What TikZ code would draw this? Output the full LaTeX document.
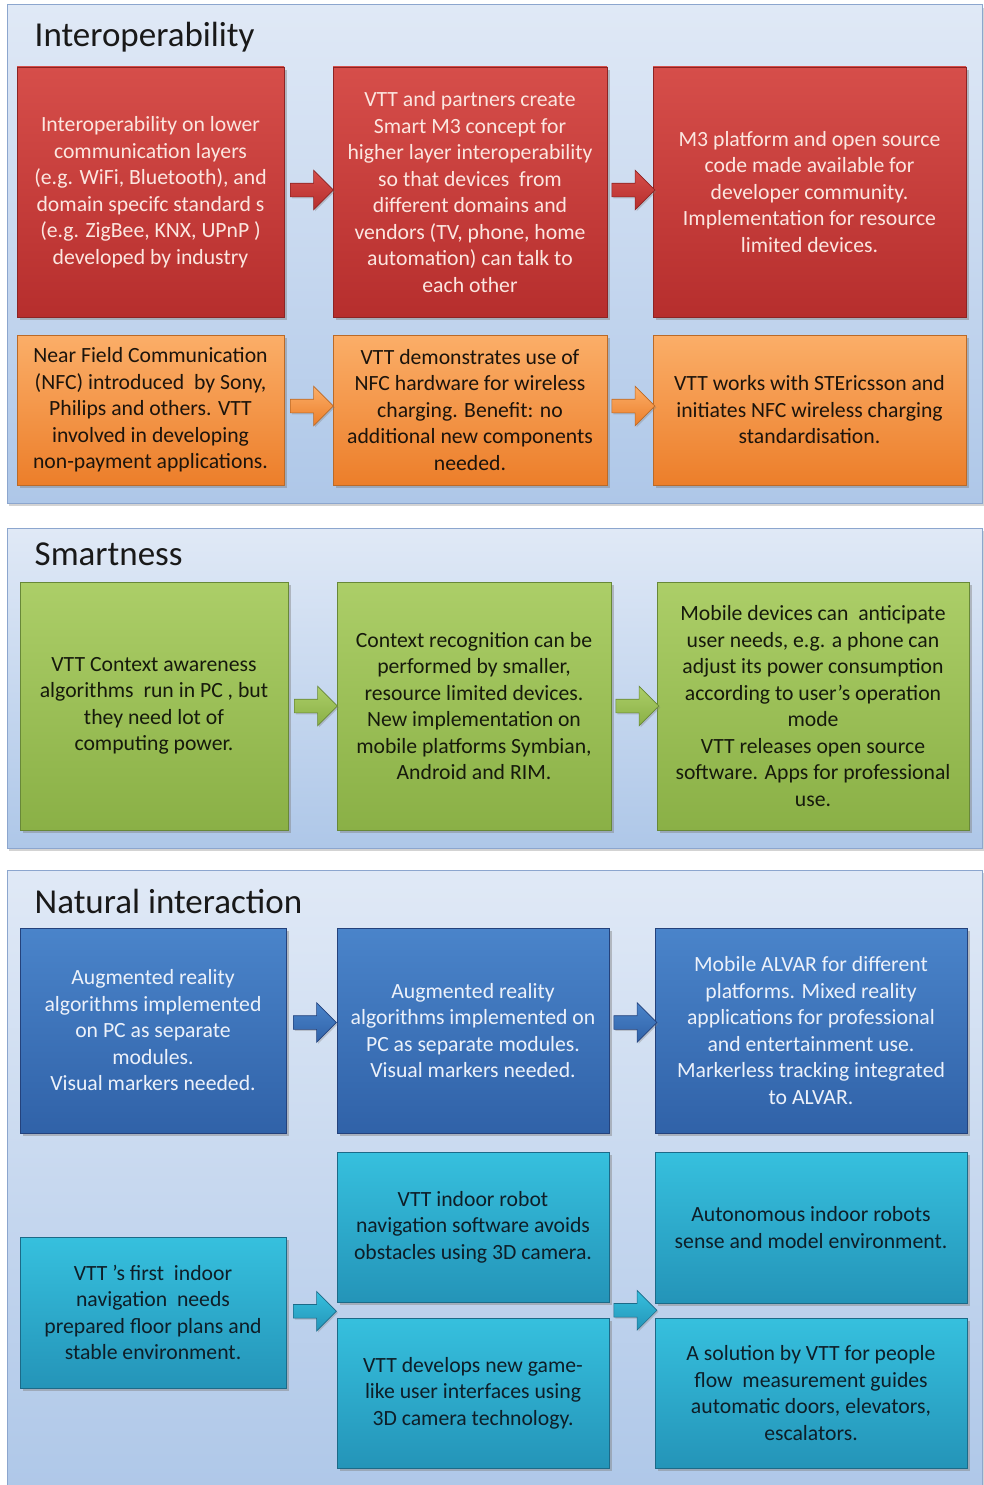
\documentclass[tikz,border=0pt]{standalone}
\usepackage{fontspec}
\setmainfont{Carlito}
\usetikzlibrary{shapes.arrows,shadows,calc}
\definecolor{pnltop}{RGB}{224,233,246}
\definecolor{pnlbot}{RGB}{174,199,232}
\definecolor{pnlbd}{RGB}{140,166,206}
\definecolor{redT}{RGB}{214,78,74}\definecolor{redB}{RGB}{182,46,45}\definecolor{redD}{RGB}{140,36,36}\definecolor{redX}{RGB}{251,230,224}
\definecolor{orT}{RGB}{251,174,104}\definecolor{orB}{RGB}{236,126,42}\definecolor{orD}{RGB}{186,106,40}\definecolor{orX}{RGB}{28,20,12}
\definecolor{grT}{RGB}{172,206,104}\definecolor{grB}{RGB}{138,176,70}\definecolor{grD}{RGB}{104,136,56}\definecolor{grX}{RGB}{22,26,12}
\definecolor{blT}{RGB}{74,132,202}\definecolor{blB}{RGB}{48,98,168}\definecolor{blD}{RGB}{36,66,124}\definecolor{blX}{RGB}{236,241,250}
\definecolor{cyT}{RGB}{54,192,222}\definecolor{cyB}{RGB}{36,148,184}\definecolor{cyD}{RGB}{28,106,136}\definecolor{cyX}{RGB}{14,30,40}
\newcommand\mybox[7]{\node[#2, minimum width={#5-#3}, minimum height={#6-#4}] (#1) at ({(#3+#5)/2},{(#4+#6)/2}) {#7};}
\begin{document}
\begin{tikzpicture}[x=1pt,y=-1pt,
  panel/.style={draw=pnlbd, line width=1pt, top color=pnltop, bottom color=pnlbot, inner sep=0pt,
    drop shadow={opacity=0.35, shadow xshift=2pt, shadow yshift=-3pt}},
  ttl/.style={anchor=west, font=\fontsize{35}{40}\selectfont, text=black!90, inner sep=0pt},
  bx/.style={inner sep=0pt, align=center, font=\fontsize{21.7}{26.5}\selectfont, line width=0.8pt,
    drop shadow={opacity=0.45, shadow xshift=2.5pt, shadow yshift=-3pt}},
  redbox/.style={bx, draw=redD, top color=redT, bottom color=redB, text=redX},
  orbox/.style={bx, draw=orD, top color=orT, bottom color=orB, text=orX},
  grbox/.style={bx, draw=grD, top color=grT, bottom color=grB, text=grX},
  blbox/.style={bx, draw=blD, top color=blT, bottom color=blB, text=blX},
  cybox/.style={bx, draw=cyD, top color=cyT, bottom color=cyB, text=cyX},
  arr/.style={single arrow, minimum height=43pt, inner sep=6.5pt, single arrow head extend=13pt,
    line width=0.6pt, draw=#1D, top color=#1T, bottom color=#1B,
    drop shadow={opacity=0.35, shadow xshift=1.5pt, shadow yshift=-1.5pt}}
]
\useasboundingbox (0,0) rectangle (984,1485);
\begin{scope}
\clip (0,0) rectangle (984,1485);
% panels
\mybox{p1}{panel}{7}{5}{982}{503}{}
\mybox{p2}{panel}{7}{528}{982}{848}{}
\mybox{p3}{panel}{7}{870}{982}{1500}{}
\node[ttl] (t1) at ($(p1.north west)+(28,33)$) {Interoperability};
\node[ttl] (t2) at ($(p2.north west)+(28,27)$) {Smartness};
\node[ttl] (t3) at ($(p3.north west)+(28,32)$) {Natural interaction};
% interoperability
\mybox{r1}{redbox}{17}{67}{284}{317}{Interoperability on lower\\communication layers\\(e.g. WiFi, Bluetooth), and\\domain specifc standard s\\(e.g. ZigBee, KNX, UPnP )\\developed by industry}
\mybox{r2}{redbox}{333}{67}{607}{317}{VTT and partners create\\Smart M3 concept for\\higher layer interoperability\\so that devices\ \ from\\different domains and\\vendors (TV, phone, home\\automation) can talk to\\each other}
\mybox{r3}{redbox}{653}{67}{966}{317}{M3 platform and open source\\code made available for\\developer community.\\Implementation for resource\\limited devices.}
\mybox{o1}{orbox}{17}{335}{284}{485}{Near Field Communication\\(NFC) introduced\ \ by Sony,\\Philips and others. VTT\\involved in developing\\non-payment applications.}
\mybox{o2}{orbox}{333}{335}{607}{485}{VTT demonstrates use of\\NFC hardware for wireless\\charging. Benefit: no\\additional new components\\needed.}
\mybox{o3}{orbox}{653}{335}{966}{485}{VTT works with STEricsson and\\initiates NFC wireless charging\\standardisation.}
\node[arr=red] (ar1) at ($(r1.east)!0.5!(r2.west)+(0,-2)$) {};
\node[arr=red] (ar2) at ($(r2.east)!0.5!(r3.west)+(0,-2)$) {};
\node[arr=or] (ao1) at ($(o1.east)!0.5!(o2.west)+(0,-4)$) {};
\node[arr=or] (ao2) at ($(o2.east)!0.5!(o3.west)+(0,-4)$) {};
% smartness
\mybox{g1}{grbox}{20}{582}{288}{830}{VTT Context awareness\\algorithms\ \ run in PC , but\\they need lot of\\computing power.}
\mybox{g2}{grbox}{337}{582}{611}{830}{Context recognition can be\\performed by smaller,\\resource limited devices.\\New implementation on\\mobile platforms Symbian,\\Android and RIM.}
\mybox{g3}{grbox}{657}{582}{969}{830}{Mobile devices can\ \ anticipate\\user needs, e.g. a phone can\\adjust its power consumption\\according to user’s operation\\mode\\VTT releases open source\\software. Apps for professional\\use.}
\node[arr=gr] (ag1) at ($(g1.east)!0.5!(g2.west)$) {};
\node[arr=gr] (ag2) at ($(g2.east)!0.5!(g3.west)$) {};
% natural interaction
\mybox{b1}{blbox}{20}{928}{286}{1133}{Augmented reality\\algorithms implemented\\on PC as separate\\modules.\\Visual markers needed.}
\mybox{b2}{blbox}{337}{928}{609}{1133}{Augmented reality\\algorithms implemented on\\PC as separate modules.\\Visual markers needed.}
\mybox{b3}{blbox}{655}{928}{967}{1133}{Mobile ALVAR for different\\platforms. Mixed reality\\applications for professional\\and entertainment use.\\Markerless tracking integrated\\to ALVAR.}
\node[arr=bl] (ab1) at ($(b1.east)!0.5!(b2.west)+(0,-8)$) {};
\node[arr=bl] (ab2) at ($(b2.east)!0.5!(b3.west)+(0,-8)$) {};
\mybox{c1}{cybox}{20}{1237}{286}{1388}{VTT ’s first\ \ indoor\\navigation\ \ needs\\prepared floor plans and\\stable environment.}
\mybox{c2}{cybox}{337}{1152}{609}{1302}{VTT indoor robot\\navigation software avoids\\obstacles using 3D camera.}
\mybox{c3}{cybox}{337}{1318}{609}{1468}{VTT develops new game-\\like user interfaces using\\3D camera technology.}
\mybox{c4}{cybox}{655}{1152}{967}{1303}{Autonomous indoor robots\\sense and model environment.}
\mybox{c5}{cybox}{655}{1318}{967}{1468}{A solution by VTT for people\\flow\ \ measurement guides\\automatic doors, elevators,\\escalators.}
\coordinate (m1) at ($(c2.south west)!0.5!(c3.north west)$);
\coordinate (m2) at ($(c4.south west)!0.5!(c5.north west)$);
\coordinate (n1) at ($(c2.south east)!0.5!(c3.north east)$);
\node[arr=cy] (ac1) at ($(c1.east)!0.5!(m1)$) {};
\node[arr=cy] (ac2) at ($(n1)!0.5!(m2)$) {};
\end{scope}
\end{tikzpicture}
\end{document}
